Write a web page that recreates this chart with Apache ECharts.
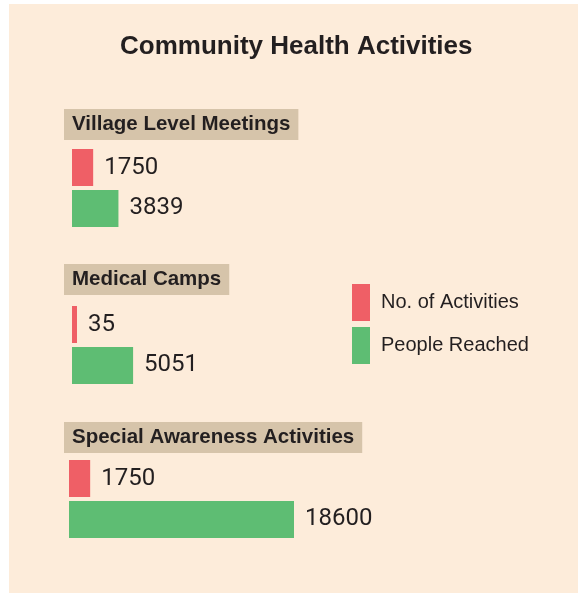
<!DOCTYPE html>
<html>
<head>
<meta charset="utf-8">
<script src="https://cdn.jsdelivr.net/npm/echarts@6/dist/echarts.min.js"></script>
<style>
html,body{margin:0;padding:0;background:#ffffff;}
#c{width:578px;height:594px;}
</style>
</head>
<body>
<div id="c"></div>
<script>
const chartTitle = 'Community Health Activities';
const categories = ['Village Level Meetings', 'Medical Camps', 'Special Awareness Activities'];
const seriesNames = ['No. of Activities', 'People Reached'];
const activities = [1750, 35, 1750];
const peopleReached = [3839, 5051, 18600];

const RED = '#EF5F66', GREEN = '#5EBD73', INK = '#231F20', BOX = '#D6C4AA', PANEL = '#FDECDA';
const numFont = "Roboto, 'Liberation Sans', sans-serif";
const txtFont = "'Liberation Sans', Arial, sans-serif";

const gridTops = [149, 306, 460];
const gridLefts = [72, 72, 69];
const boxTops = [109, 264, 422];

const chart = echarts.init(document.getElementById('c'), null, {renderer: 'canvas'});

const titles = [{
  text: chartTitle, left: 120, top: 34, padding: 0,
  textStyle: {fontFamily: txtFont, fontWeight: 'bold', fontSize: 26, color: INK}
}];
categories.forEach((c, i) => {
  titles.push({
    text: c, left: 64, top: boxTops[i],
    backgroundColor: BOX, padding: [5, 8, 5, 8],
    textStyle: {fontFamily: txtFont, fontWeight: 'bold', fontSize: 20.5, lineHeight: 21, color: INK}
  });
});

const grids = [], xAxes = [], yAxes = [], series = [];
categories.forEach((c, i) => {
  grids.push({left: gridLefts[i], top: gridTops[i], width: 300, height: 78});
  xAxes.push({type: 'value', gridIndex: i, min: 0, max: 24800, show: false});
  yAxes.push({type: 'category', gridIndex: i, data: [c], show: false, inverse: true});
  [activities, peopleReached].forEach((arr, k) => {
    series.push({
      type: 'bar', name: seriesNames[k], xAxisIndex: i, yAxisIndex: i,
      data: [arr[i]], barWidth: 37, barGap: '10.8%', barMinHeight: 5,
      itemStyle: {color: k === 0 ? RED : GREEN},
      label: {show: true, position: 'right', distance: 11, fontFamily: numFont, fontSize: 24, color: INK},
      silent: true, animation: false
    });
  });
});

chart.setOption({
  backgroundColor: '#ffffff',
  animation: false,
  graphic: [{type: 'rect', shape: {x: 9, y: 4, width: 569, height: 589}, style: {fill: PANEL}, z: -10}],
  title: titles,
  legend: {
    data: seriesNames, orient: 'vertical', left: 352, top: 284, padding: 0,
    itemWidth: 18, itemHeight: 37, itemGap: 6, icon: 'rect',
    textStyle: {fontFamily: txtFont, fontSize: 20, color: INK, padding: [0, 0, 0, 6]}
  },
  grid: grids, xAxis: xAxes, yAxis: yAxes, series: series
});
</script>
</body>
</html>
